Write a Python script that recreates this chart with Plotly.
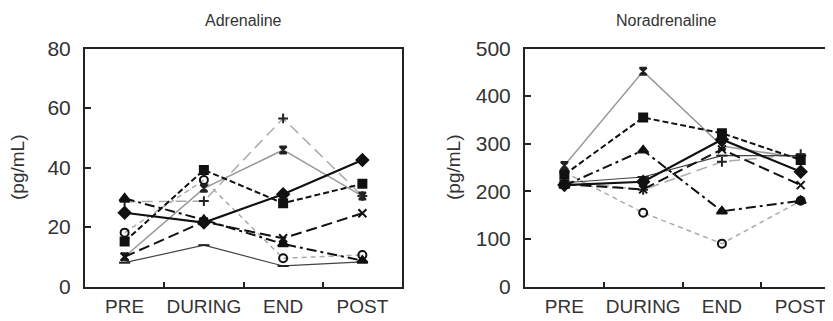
import plotly.graph_objects as go

categories = ["PRE", "DURING", "END", "POST"]

# Adrenaline (pg/mL)
adr_diamond = [24.8, 21.5, 31.0, 42.5]
adr_square = [15.1, 39.2, 28.0, 34.5]
adr_triangle = [29.6, 22.4, 14.3, 8.7]
adr_x = [10.0, 21.8, 16.2, 24.6]
adr_hour = [10.0, 33.0, 45.9, 30.4]
adr_plus = [28.5, 28.7, 56.5, 30.4]
adr_circle = [18.1, 35.8, 9.5, 10.6]
adr_minus = [8.0, 13.9, 6.9, 8.3]

# Noradrenaline (pg/mL)
nor_diamond = [213, 220, 309, 241]
nor_square = [235, 355, 322, 266]
nor_triangle = [212, 286, 158, 180]
nor_x = [215, 204, 288, 213]
nor_hour = [254, 452, 295, 270]
nor_plus = [222, 203, 262, 278]
nor_circle = [240, 155, 90, 180]
nor_minus = [218, 230, 275, 275]

adr_ticks = [0, 20, 40, 60, 80]
nor_ticks = [0, 100, 200, 300, 400, 500]

styles = [
    dict(color="#111", width=2.2, dash="solid", symbol="diamond", size=9, mcolor="#111"),
    dict(color="#111", width=2.0, dash="6px,3px", symbol="square", size=8, mcolor="#111"),
    dict(color="#111", width=2.0, dash="10px,4px,3px,4px", symbol="triangle-up", size=9, mcolor="#111"),
    dict(color="#111", width=2.0, dash="11px,5px", symbol="x-thin-open", size=8, mcolor="#111"),
    dict(color="#999", width=1.5, dash="solid", symbol="hourglass", size=7, mcolor="#222"),
    dict(color="#aaa", width=1.5, dash="11px,6px", symbol="cross-thin-open", size=7, mcolor="#222"),
    dict(color="#aaa", width=1.5, dash="5px,4px", symbol="circle-open", size=8, mcolor="#111"),
    dict(color="#444", width=1.2, dash="solid", symbol="line-ew-open", size=8, mcolor="#222"),
]

adr_series = [adr_diamond, adr_square, adr_triangle, adr_x, adr_hour, adr_plus, adr_circle, adr_minus]
nor_series = [nor_diamond, nor_square, nor_triangle, nor_x, nor_hour, nor_plus, nor_circle, nor_minus]

fig = go.Figure()

# draw light series first, dark ones on top
order = [6, 5, 4, 7, 3, 2, 1, 0]
for xa, ya, series in (("x", "y", adr_series), ("x2", "y2", nor_series)):
    for i in order:
        s = styles[i]
        fig.add_trace(go.Scatter(
            x=categories, y=series[i], xaxis=xa, yaxis=ya, mode="lines+markers",
            line=dict(color=s["color"], width=s["width"], dash=s["dash"]),
            marker=dict(symbol=s["symbol"], size=s["size"], color=s["mcolor"],
                        line=dict(color=s["mcolor"], width=2)),
            showlegend=False, cliponaxis=False))

# the page body has an 8px margin, so the figure is shifted by OFF px
OFF = 8
W, H = 833 - OFF, 321 - OFF


def px(x):
    return (x - OFF) / W


def py(y):
    return 1 - (y - OFF) / H


top, bottom = 48.5, 286.5
ydom = [py(bottom), py(top)]
FONT = "Liberation Sans, Arial, sans-serif"
tickfont_x = dict(family=FONT, size=19, color="#333")
tickfont_y = dict(family=FONT, size=21, color="#333")

xcommon = dict(type="category", categoryorder="array", categoryarray=categories,
               tickson="boundaries", ticks="inside", ticklen=5, tickwidth=1.5, tickcolor="#222",
               showline=True, linecolor="#222", linewidth=2, showgrid=False, zeroline=False,
               tickfont=tickfont_x, tickangle=0, ticklabelstandoff=2, mirror=True,
               automargin=False)
ycommon = dict(ticks="inside", ticklen=6, tickwidth=1.5, tickcolor="#222",
               showline=True, linecolor="#222", linewidth=2, showgrid=False, zeroline=False,
               tickfont=tickfont_y, ticklabelstandoff=8, automargin=False)

fig.update_layout(
    width=W, height=H, margin=dict(l=0, r=0, t=0, b=0, autoexpand=False),
    paper_bgcolor="white", plot_bgcolor="white",
    xaxis=dict(domain=[px(85), px(402)], range=[-0.5, 3.5], anchor="y", **xcommon),
    yaxis=dict(domain=ydom, range=[0, 80], tickvals=adr_ticks, anchor="x", mirror=True, **ycommon),
    xaxis2=dict(domain=[px(525), 1.0], range=[-0.5, 3.41], anchor="y2", **xcommon),
    yaxis2=dict(domain=ydom, range=[0, 500], tickvals=nor_ticks, anchor="x2", mirror=False, **ycommon),
    annotations=[
        dict(text="Adrenaline", x=px(243), y=py(20), xref="paper", yref="paper",
             xanchor="center", yanchor="middle",
             showarrow=False, font=dict(family=FONT, size=16, color="#333")),
        dict(text="Noradrenaline", x=px(666), y=py(20), xref="paper", yref="paper",
             xanchor="center", yanchor="middle",
             showarrow=False, font=dict(family=FONT, size=16, color="#333")),
        dict(text="(pg/mL)", x=px(17), y=py(168), xref="paper", yref="paper", textangle=-90,
             xanchor="center", yanchor="middle",
             showarrow=False, font=dict(family=FONT, size=19, color="#333")),
        dict(text="(pg/mL)", x=px(453), y=py(168), xref="paper", yref="paper", textangle=-90,
             xanchor="center", yanchor="middle",
             showarrow=False, font=dict(family=FONT, size=19, color="#333")),
    ],
)

fig.write_html("out.html")
